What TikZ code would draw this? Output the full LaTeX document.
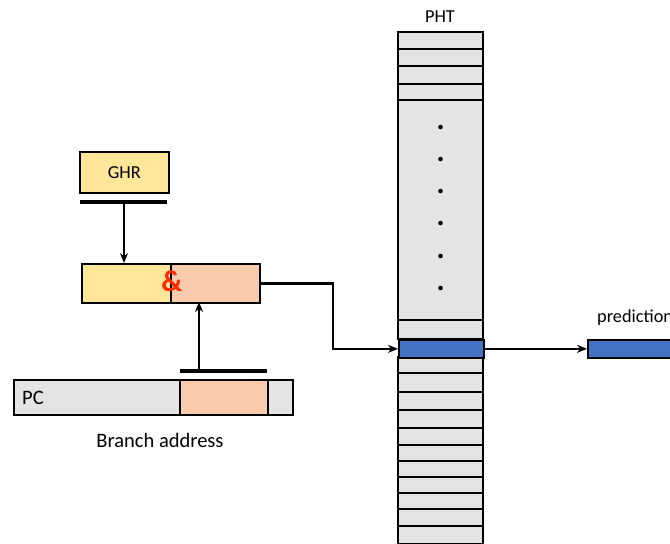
\documentclass[tikz,border=0pt]{standalone}
\usepackage{fontspec}
\setmainfont{Carlito}
\usetikzlibrary{arrows.meta}
\definecolor{ylw}{HTML}{FFE699}
\definecolor{pch}{HTML}{F8CBAD}
\definecolor{gry}{HTML}{E4E4E4}
\definecolor{blu}{HTML}{4472C4}
\definecolor{ampred}{HTML}{FF2A00}
\begin{document}
\begin{tikzpicture}[x=1pt,y=-1pt,
  box/.style={draw=black,line width=1.7pt},
  bar/.style={line width=3.2pt},
  conn/.style={line width=2.6pt,line join=miter,-{Stealth[length=10pt,width=8pt]}},
  lbl/.style={font=\fontsize{20.5}{22}\selectfont,inner sep=0pt},
  slbl/.style={font=\fontsize{18.3}{20}\selectfont,inner sep=0pt},
  dotm/.style={circle,fill=black,inner sep=0pt,minimum size=4.6pt}]
\useasboundingbox (0,0) rectangle (670,544);
\clip (0,0) rectangle (670,544);
% GHR
\node[box,fill=ylw,minimum width=89pt,minimum height=41pt,anchor=north west,inner sep=0pt,slbl] (ghr) at (79,151) {GHR};
\coordinate (ghrbarL) at (80,202);
\coordinate (ghrbarR) at (167,202);
\draw[bar] (ghrbarL) -- (ghrbarR);
\coordinate (ghrout) at (124,202);
% concat box
\path[fill=ylw] (81,263) rectangle (171,302);
\path[fill=pch] (171,263) rectangle (259,302);
\node[box,minimum width=178pt,minimum height=39pt,anchor=north west,inner sep=0pt] (cat) at (81,263) {};
\draw[line width=2pt] (171,263) -- (171,302);
\node[text=ampred,font=\fontsize{30}{32}\selectfont\bfseries,inner sep=0pt] (amp) at (172,281) {\&};
\coordinate (catin1) at (124,263);
\coordinate (catin2) at (199,302);
% PC
\node[box,fill=gry,minimum width=279pt,minimum height=35pt,anchor=north west,inner sep=0pt] (pc) at (13,379) {};
\node[box,fill=pch,minimum width=88pt,minimum height=35pt,anchor=north west,inner sep=0pt] (pcfield) at (179,379) {};
\node[lbl,anchor=west] (pclbl) at (22,398) {PC};
\coordinate (pcbarL) at (180,371);
\coordinate (pcbarR) at (267,371);
\draw[bar] (pcbarL) -- (pcbarR);
\coordinate (pcout) at (199,371);
\node[lbl] (ba) at (160,440) {Branch address};
% arrows into concat
\draw[conn] (ghrout) -- (catin1);
\draw[conn] (pcout) -- (catin2);
% PHT
\node[slbl] (phtlbl) at (440,17) {PHT};
\foreach \a/\b in {32/49,49/66,66/84,84/100,100/320,320/339,357/373,373/392,392/410,410/428,428/445,445/461,461/477,477/493,493/509,509/526,526/544,544/560}
  \draw[box,fill=gry] (398,\a) rectangle (483,\b);
\foreach \yy in {127,159,191,223,256,288}
  \node[dotm] at (440.5,\yy) {};
\node[box,fill=blu,minimum width=85pt,minimum height=18pt,anchor=north west,inner sep=0pt] (sel) at (398,339) {};
% prediction
\node[box,fill=blu,minimum width=100pt,minimum height=18pt,anchor=north west,inner sep=0pt] (pred) at (587,339) {};
\node[slbl,anchor=west] (predlbl) at (597,318) {prediction};
% connectors
\coordinate (bendx) at (333,0);
\draw[conn] (cat.east) -- (cat.east -| bendx) |- (sel.west);
\draw[conn] (sel.east) -- (pred.west |- sel.east);
\end{tikzpicture}
\end{document}
